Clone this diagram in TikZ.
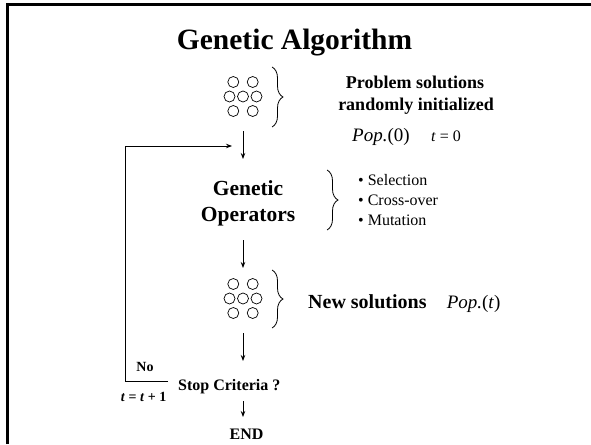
\documentclass[tikz,border=0pt]{standalone}
\usepackage{fontspec}
\setmainfont{Liberation Serif}
\usetikzlibrary{arrows.meta,decorations.pathreplacing}
\tikzset{
  boldtxt/.style={inner sep=0pt, font=\fontsize{#1}{#1}\selectfont\bfseries},
  plaintxt/.style={inner sep=0pt, font=\fontsize{#1}{#1}\selectfont},
  flow/.style={-{Stealth[length=6pt,width=4.5pt]}, line width=0.9pt},
  ring/.style={draw, line width=0.7pt},
  curly/.style={decorate, decoration={brace, amplitude=11pt, aspect=0.5}, line width=0.8pt},
  frameline/.style={line width=3pt},
  population/.pic={
    \foreach \px/\py in {-9.7/-14.5, 9.7/-14.5, -13.5/0, 0/0, 13.5/0, -9.7/14.5, 9.7/14.5}
      \draw[ring] (\px,\py) circle (5.5);
  }
}
\begin{document}
\begin{tikzpicture}[x=1pt, y=-1pt]
  \useasboundingbox (0,0) rectangle (591,444);
  \fill[white] (0,0) rectangle (591,444);
  % slide frame
  \draw[frameline] (7.5,444) -- (7.5,4.5) -- (591,4.5);

  % title
  \node[boldtxt=29.5, anchor=base] (title) at (294.5,50) {Genetic Algorithm};

  % initial population
  \pic (popA) at (243,96.5) {population};
  \draw[curly] (272,67) -- (272,127);
  \node[boldtxt=18, anchor=base] (probA) at (415,88) {Problem solutions};
  \node[boldtxt=18, anchor=base] (probB) at (416,110.5) {randomly initialized};
  \node[plaintxt=19, anchor=base west] (pop0) at (352,141) {\textit{Pop.}(0)};
  \node[plaintxt=16, anchor=base west] (tzero) at (431,141) {\textit{t} = 0};

  % genetic operators
  \node[boldtxt=21.5, anchor=base] (genA) at (248,195) {Genetic};
  \node[boldtxt=21.5, anchor=base] (genB) at (248,221.7) {Operators};
  \draw[curly] (327,170) -- (327,230);
  \node[plaintxt=16, anchor=base west] (opA) at (358,185.3) {\textbullet\ Selection};
  \node[plaintxt=16, anchor=base west] (opB) at (358,205.3) {\textbullet\ Cross-over};
  \node[plaintxt=16, anchor=base west] (opC) at (358,225.3) {\textbullet\ Mutation};

  % new population
  \pic (popB) at (243,298.5) {population};
  \draw[curly] (272,270) -- (272,328);
  \node[boldtxt=20, anchor=base west] (newsol) at (308,308) {New solutions};
  \node[plaintxt=19, anchor=base west] (popt) at (446.6,308) {\textit{Pop.}(\textit{t})};

  % stopping test
  \node[boldtxt=16, anchor=base west] (stop) at (178,390) {Stop Criteria ?};
  \node[boldtxt=14, anchor=base] (no) at (145,371) {No};
  \node[boldtxt=14, anchor=base west] (incr) at (120.7,401) {\textit{t} = \textit{t} + 1};
  \node[boldtxt=16, anchor=base] (endn) at (246.5,439) {END};

  % connector end points
  \coordinate (a1s) at (243,131);  \coordinate (a1e) at (243,159);
  \coordinate (a2s) at (243,240);  \coordinate (a2e) at (243,268);
  \coordinate (a3s) at (243,333);  \coordinate (a3e) at (243,361);
  \coordinate (a4s) at (243,401);  \coordinate (a4e) at (243,417);
  \coordinate (loopS) at (168,381.5);
  \coordinate (loopC) at (125,381.5);
  \coordinate (loopE) at (232,146);

  \draw[flow] (a1s) -- (a1e);
  \draw[flow] (a2s) -- (a2e);
  \draw[flow] (a3s) -- (a3e);
  \draw[flow] (a4s) -- (a4e);
  \draw[flow, line width=0.8pt] (loopS) -- (loopC) |- (loopE);
\end{tikzpicture}
\end{document}
